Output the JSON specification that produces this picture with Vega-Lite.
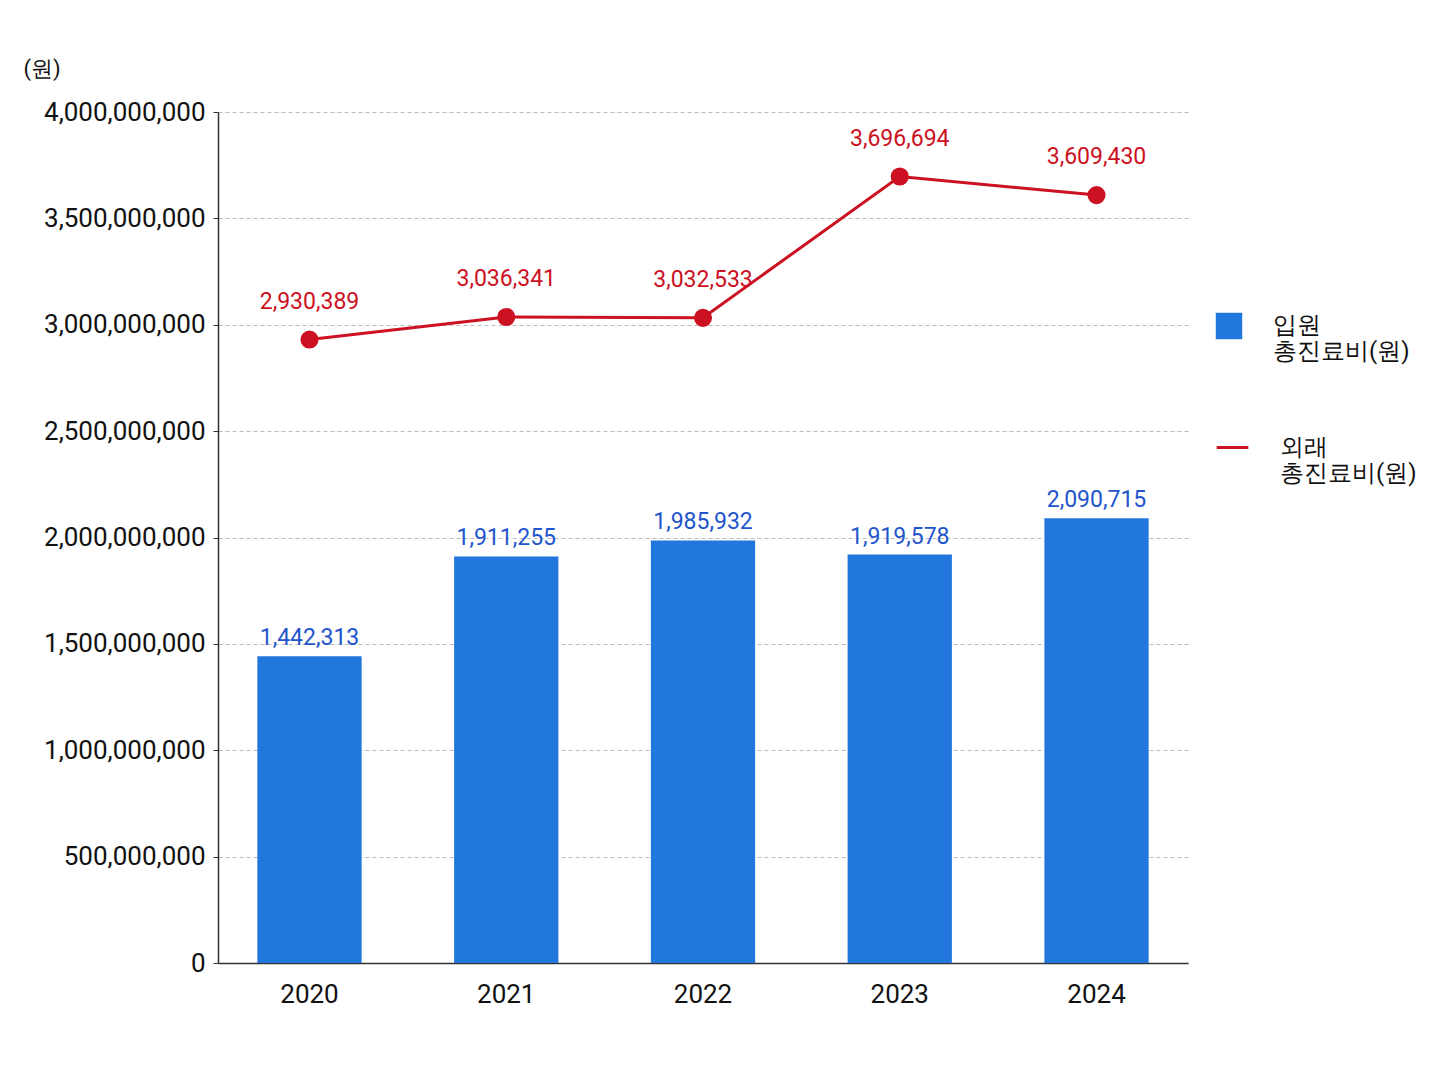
{
"$schema":"https://vega.github.io/schema/vega-lite/v6.json",
"autosize":{"type":"none"},
"width":970,"height":851,
"padding":{"left":218,"top":112,"right":260,"bottom":123},
"background":"white",
"config":{"font":"Roboto","view":{"stroke":null}},
"data":{"values":[
{"year":"2020","inp":1442313000,"inpL":"1,442,313","out":2930389000,"outL":"2,930,389"},
{"year":"2021","inp":1911255000,"inpL":"1,911,255","out":3036341000,"outL":"3,036,341"},
{"year":"2022","inp":1985932000,"inpL":"1,985,932","out":3032533000,"outL":"3,032,533"},
{"year":"2023","inp":1919578000,"inpL":"1,919,578","out":3696694000,"outL":"3,696,694"},
{"year":"2024","inp":2090715000,"inpL":"2,090,715","out":3609430000,"outL":"3,609,430"}
]},
"encoding":{"x":{"field":"year","type":"ordinal","scale":{"paddingInner":0.47,"paddingOuter":0.2},
"axis":{"title":null,"labelAngle":0,"labelFontSize":26,"labelColor":"#111","labelPadding":18,"ticks":false,"domainColor":"#333","domainWidth":1.5}}},
"layer":[
{"mark":{"type":"bar","color":"#2277dd"},
"encoding":{"y":{"field":"inp","type":"quantitative","scale":{"domain":[0,4000000000]},
"axis":{"title":"(원)","titleAngle":0,"titleX":-195,"titleY":-32,"titleAlign":"left","titleFontSize":22,"titleFontWeight":"normal","titleColor":"#111",
"tickCount":8,"labelExpr":"format(datum.value, ',')","labelFontSize":26,"labelColor":"#111","labelPadding":8,"tickColor":"#333","domainColor":"#333","domainWidth":1.5,
"grid":true,"gridDash":[4,3],"gridColor":"#bbb"}},
"fill":{"datum":"입원|총진료비(원)","type":"nominal","scale":{"range":["#2277dd"]},
"legend":{"title":null,"orient":"none","legendX":997,"legendY":200,"symbolType":"square","symbolSize":700,"labelFontSize":24,"labelColor":"#111","labelExpr":"split(datum.label,'|')","labelOffset":30}}}},
{"mark":{"type":"text","dy":-18,"fontSize":23,"color":"#2255cc"},
"encoding":{"y":{"field":"inp","type":"quantitative"},"text":{"field":"inpL"}}},
{"mark":{"type":"line","color":"#cc1122","strokeWidth":3,"point":{"filled":true,"size":260,"color":"#cc1122"}},
"encoding":{"y":{"field":"out","type":"quantitative"},
"stroke":{"datum":"외래|총진료비(원)","type":"nominal","scale":{"range":["#cc1122"]},
"legend":{"title":null,"orient":"none","legendX":997,"legendY":318,"symbolType":"stroke","symbolSize":1000,"symbolStrokeWidth":3,"labelFontSize":24,"labelColor":"#111","labelExpr":"split(datum.label,'|')","labelOffset":30}}}},
{"mark":{"type":"text","dy":-38,"fontSize":23,"color":"#cc1122"},
"encoding":{"y":{"field":"out","type":"quantitative"},"text":{"field":"outL"}}}
]
}
